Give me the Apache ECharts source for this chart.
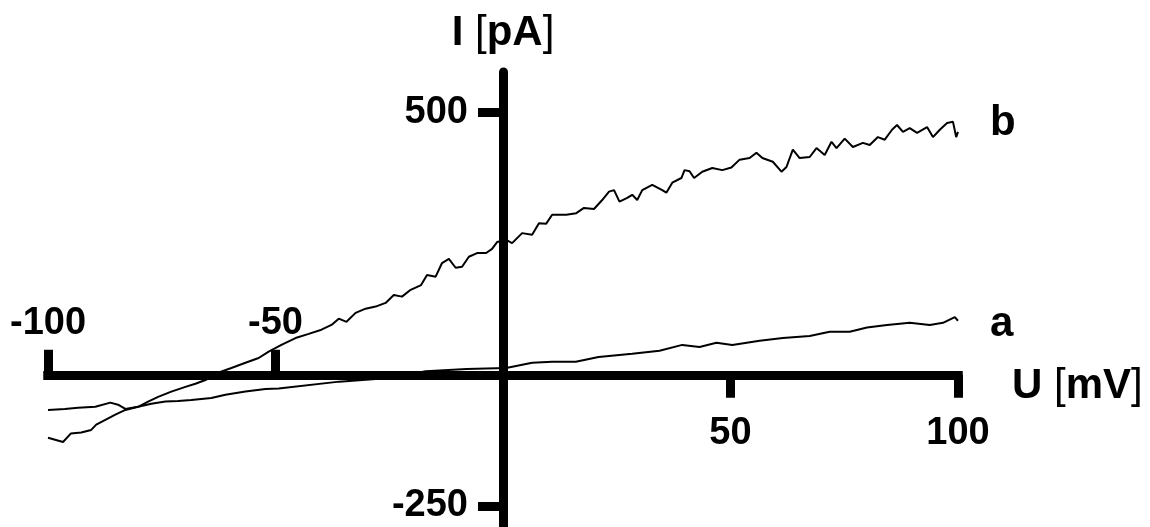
<!DOCTYPE html>
<html>
<head>
<meta charset="utf-8">
<script src="https://cdn.jsdelivr.net/npm/echarts@6/dist/echarts.min.js"></script>
<style>
  html, body { margin: 0; padding: 0; background: #fff; }
  #iv-chart { width: 1150px; height: 527px; }
</style>
</head>
<body>
<div id="iv-chart"></div>
<script>
// trace a (membrane voltage in mV / current in pA)
var aU = [-100, -96.3, -93.4, -89.6, -86.3, -84.6, -83, -80.2, -77.3, -74.2, -71.4, -68.5, -64.1, -61, -56.6, -52.2, -49.3,
  -36, -25, -17, -8, 0.7, 6.4, 10.8, 16, 21, 28.4, 34.4, 39.4, 43.2, 46.9, 50.4, 56.4, 61.5, 67.4, 71.8, 76.2, 80, 84.4,
  89.4, 93.8, 96.7, 99.3, 100];
var aI = [-67, -65, -63, -61, -53, -57, -65, -61, -55, -51, -50, -48, -44, -38, -32, -27, -26,
  -13, -6, 7, 11, 13, 23, 25, 25, 34, 40, 46, 57, 53, 61, 57, 65, 70, 74, 82, 82, 90, 95,
  99, 95, 99, 110, 103];

// trace b
var bU = [-100, -96.7, -95, -92.7, -90.5, -89.4, -87.4, -85.2, -83, -80.2, -78, -75.8, -72.9, -69.8, -67.6, -65.4,
  -62.6, -59.7, -56.6, -53.7, -51.5, -48.7, -45.6, -42.7, -39.9, -37.7, -36.1, -34.4, -32.4, -30.2, -28, -25.8,
  -24, -22.2, -20.3, -18, -16.7, -14.8, -13.4, -11.9, -10.4, -9, -7.5, -5.7, -3.7, -2.4, -1.3, 0.7, 2, 4.2, 6.4,
  7.9, 9.5, 10.8, 13.9, 16.1, 17.8, 20, 21.8, 23.3, 24.4, 25.6, 27.3, 28.4, 29.5, 30.6, 32.8, 35, 35.9, 37.2,
  39.2, 39.9, 41, 42, 43.8, 46, 48.2, 50.2, 52, 54.2, 55.7, 57, 59.3, 61.2, 62.3, 63.7, 65.2, 67.4, 68.9, 70.7,
  72.2, 73.3, 75.1, 76.9, 79.1, 80.6, 82.4, 83.9, 85.5, 86.6, 87.9, 89.4, 91, 93.2, 94.5, 96, 97.6, 98.9, 99.6, 100];
var bI = [-120, -128, -112, -110, -105, -95, -86, -76, -67, -61, -51, -42, -32, -23, -17, -10,
  4, 13, 23, 32, 44, 57, 70, 78, 86, 95, 107, 101, 118, 126, 130, 137,
  152, 149, 162, 171, 190, 187, 213, 221, 204, 206, 225, 232, 232, 240, 253, 257, 251, 270, 267,
  289, 288, 305, 305, 308, 318, 316, 333, 349, 352, 330, 337, 343, 333, 352, 362, 352, 347, 366,
  375, 390, 388, 375, 387, 394, 390, 395, 410, 413, 423, 413, 406, 387, 396, 429, 413, 415, 432, 419,
  444, 432, 450, 434, 442, 438, 453, 448, 467, 476, 463, 470, 461, 472, 453, 467, 480, 482, 453, 463];

var xTicksUp = [-100, -50];
var xTicksDown = [50, 100];
var yTicks = [-250, 500];

var FONT = '"Liberation Sans", Arial, Helvetica, sans-serif';

function pairs(u, i) {
  return u.map(function (v, k) { return [v, i[k]]; });
}

// plot box; the axes are shifted inwards so that they cross at (0 mV, 0 pA)
var W = 1150, H = 527;
var G = { left: 48, right: 192, top: 72, bottom: 0 };
var Y_MIN = -290, Y_MAX = 577;
var zeroY = G.top + (H - G.top - G.bottom) * Y_MAX / (Y_MAX - Y_MIN);
var zeroX = G.left + (W - G.left - G.right) / 2;

var tickStyle = { color: '#000', width: 9 };
var labelStyle = { color: '#000', fontSize: 38, fontWeight: 'bold', fontFamily: FONT };
var nameRich = {
  b: { fontSize: 42, fontWeight: 'bold', fontFamily: FONT, color: '#000' },
  n: { fontSize: 42, fontWeight: 'normal', fontFamily: FONT, color: '#000' }
};

var chart = echarts.init(document.getElementById('iv-chart'));
chart.setOption({
  animation: false,
  backgroundColor: '#fff',
  grid: { left: G.left, right: G.right, top: G.top, bottom: G.bottom, outerBoundsMode: 'none', containLabel: false },
  xAxis: [
    {
      type: 'value', min: -100, max: 100, position: 'bottom',
      offset: -(H - G.bottom - zeroY),
      axisLine: { onZero: false, lineStyle: { color: '#000', width: 9, cap: 'square' } },
      axisTick: { customValues: xTicksDown, length: 23, lineStyle: tickStyle },
      axisLabel: Object.assign({ customValues: xTicksDown, margin: 40 }, labelStyle),
      splitLine: { show: false },
      name: '{b|U }{n|[}{b|mV}{n|]}',
      nameLocation: 'end',
      nameGap: 54,
      nameTextStyle: { rich: nameRich, padding: [24, 0, 0, 0] }
    },
    {
      type: 'value', min: -100, max: 100, position: 'top',
      offset: -(zeroY - G.top),
      axisLine: { onZero: false, lineStyle: { color: '#000', width: 9, cap: 'square' } },
      axisTick: { customValues: xTicksUp, length: 25, lineStyle: tickStyle },
      axisLabel: Object.assign({ customValues: xTicksUp, margin: 32 }, labelStyle),
      splitLine: { show: false }
    }
  ],
  yAxis: {
    type: 'value', min: Y_MIN, max: Y_MAX, position: 'left',
    offset: -(zeroX - G.left),
    axisLine: { onZero: false, lineStyle: { color: '#000', width: 9 } },
    axisTick: { customValues: yTicks, length: 25, lineStyle: tickStyle },
    axisLabel: Object.assign({ customValues: yTicks, margin: 35 }, labelStyle),
    splitLine: { show: false },
    name: '{b|I }{n|[}{b|pA}{n|]}',
    nameLocation: 'end',
    nameGap: 18,
    nameTextStyle: { rich: nameRich }
  },
  series: [
    {
      name: 'a', type: 'line', xAxisIndex: 0, data: pairs(aU, aI),
      symbol: 'none', silent: true,
      lineStyle: { color: '#000', width: 2 },
      endLabel: {
        show: true, formatter: 'a', distance: 32, offset: [0, 4],
        color: '#000', fontSize: 42, fontWeight: 'bold', fontFamily: FONT
      }
    },
    {
      name: 'b', type: 'line', xAxisIndex: 0, data: pairs(bU, bI),
      symbol: 'none', silent: true,
      lineStyle: { color: '#000', width: 2 },
      endLabel: {
        show: true, formatter: 'b', distance: 32, offset: [0, -8],
        color: '#000', fontSize: 42, fontWeight: 'bold', fontFamily: FONT
      }
    }
  ]
});
</script>
</body>
</html>
